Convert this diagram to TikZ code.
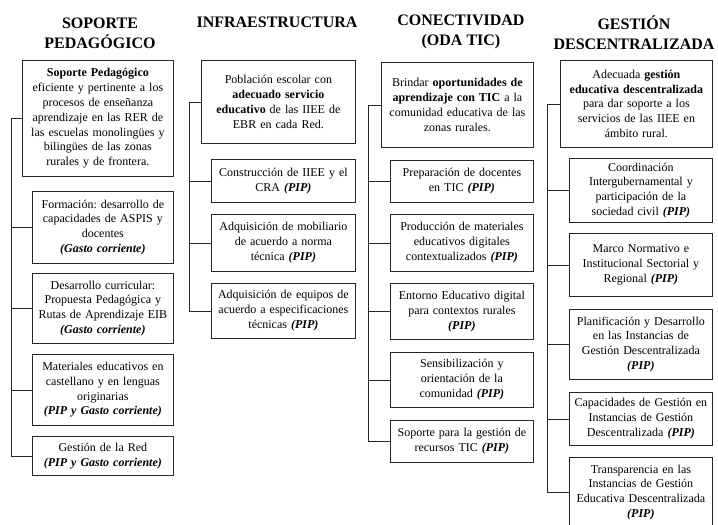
\documentclass[tikz,border=0pt]{standalone}
\usepackage{fontspec}
\setmainfont{Liberation Serif}
\frenchspacing

\begin{document}
\begin{tikzpicture}[
            x=1pt, y=-1pt,
            every node/.style={align=center, inner xsep=4pt, inner ysep=2pt, font=\fontsize{12}{14.8}\selectfont},
            coltitle/.style={font=\fontsize{16}{20}\selectfont\bfseries, inner sep=0pt},
            goalbox/.style={draw=black!85, line width=0.8pt, anchor=north west},
            itembox/.style={draw=black!85, line width=0.8pt, anchor=north west},
            trunkline/.style={draw=black!85, line width=0.8pt}
            ]
            \useasboundingbox (0,0) rectangle (718,525);
            % Titles
            \node[coltitle] (t1) at (100,33) {SOPORTE\\PEDAGÓGICO};
            \node[coltitle] (t2) at (277,22) {INFRAESTRUCTURA};
            \node[coltitle] (t3) at (461,32) {CONECTIVIDAD\\(ODA TIC)};
            \node[coltitle] (t4) at (634,33) {GESTIÓN\\DESCENTRALIZADA};

            % Soporte pedagogico
            \coordinate (sx) at (11,0);
            \node[goalbox, text width=143pt, minimum height=116pt] (s0) at (22,60)
              {\textbf{Soporte Pedagógico}\\ eficiente y pertinente a los\\ procesos de enseñanza\\ aprendizaje en las RER de\\ las escuelas monolingües y\\ bilingües de las zonas\\ rurales y de frontera.};
            \node[itembox, text width=133pt, minimum height=72pt] (s1) at (32,191)
              {Formación: desarrollo de\\ capacidades de ASPIS y\\ docentes\\ \textbf{\textit{(Gasto corriente)}}};
            \node[itembox, text width=133pt, minimum height=70pt] (s2) at (32,273)
              {Desarrollo curricular:\\ Propuesta Pedagógica y\\ Rutas de Aprendizaje EIB\\ \textbf{\textit{(Gasto corriente)}}};
            \node[itembox, text width=133pt, minimum height=71pt] (s3) at (32,354)
              {Materiales educativos en\\ castellano y en lenguas\\ originarias\\ \textbf{\textit{(PIP y Gasto corriente)}}};
            \node[itembox, text width=133pt, minimum height=39pt] (s4) at (32,436)
              {Gestión de la Red\\ \textbf{\textit{(PIP y Gasto corriente)}}};
            \draw[trunkline] (s0.west) -| (s4.west -| sx) -- (s4.west);
            \draw[trunkline] (s1.west -| sx) -- (s1.west)
                             (s2.west -| sx) -- (s2.west)
                             (s3.west -| sx) -- (s3.west);

            % Infraestructura
            \coordinate (ix) at (189,0);
            \node[goalbox, text width=146pt, minimum height=83pt] (i0) at (201,60)
              {Población escolar con\\ \textbf{adecuado servicio}\\ \textbf{educativo} de las IIEE de\\ EBR en cada Red.};
            \node[itembox, text width=136pt, minimum height=43pt] (i1) at (211,159)
              {Construcción de IIEE y el\\ CRA \textbf{\textit{(PIP)}}};
            \node[itembox, text width=136pt, minimum height=57pt] (i2) at (211,214)
              {Adquisición de mobiliario\\ de acuerdo a norma\\ técnica \textbf{\textit{(PIP)}}};
            \node[itembox, text width=136pt, minimum height=55pt] (i3) at (211,283)
              {Adquisición de equipos de\\ acuerdo a especificaciones\\ técnicas \textbf{\textit{(PIP)}}};
            \draw[trunkline] (i0.west) -| (i3.west -| ix) -- (i3.west);
            \draw[trunkline] (i1.west -| ix) -- (i1.west)
                             (i2.west -| ix) -- (i2.west);

            % Conectividad
            \coordinate (cx) at (368,0);
            \node[goalbox, text width=144pt, minimum height=85pt] (c0) at (381,62)
              {Brindar \textbf{oportunidades de}\\ \textbf{aprendizaje con TIC} a la\\ comunidad educativa de las\\ zonas rurales.};
            \node[itembox, text width=135pt, minimum height=42pt] (c1) at (390,160)
              {Preparación de docentes\\ en TIC \textbf{\textit{(PIP)}}};
            \node[itembox, text width=135pt, minimum height=57pt] (c2) at (390,214)
              {Producción de materiales\\ educativos digitales\\ contextualizados \textbf{\textit{(PIP)}}};
            \node[itembox, text width=135pt, minimum height=56pt] (c3) at (390,283)
              {Entorno Educativo digital\\ para contextos rurales\\ \textbf{\textit{(PIP)}}};
            \node[itembox, text width=135pt, minimum height=55pt] (c4) at (390,352)
              {Sensibilización y\\ orientación de la\\ comunidad \textbf{\textit{(PIP)}}};
            \node[itembox, text width=135pt, minimum height=42pt] (c5) at (390,420)
              {Soporte para la gestión de\\ recursos TIC \textbf{\textit{(PIP)}}};
            \draw[trunkline] (c0.west) -| (c5.west -| cx) -- (c5.west);
            \draw[trunkline] (c1.west -| cx) -- (c1.west)
                             (c2.west -| cx) -- (c2.west)
                             (c3.west -| cx) -- (c3.west)
                             (c4.west -| cx) -- (c4.west);

            % Gestion descentralizada
            \coordinate (gx) at (547,0);
            \node[goalbox, text width=144pt, minimum height=87pt] (g0) at (560,60)
              {Adecuada \textbf{gestión}\\ \textbf{educativa descentralizada}\\ para dar soporte a los\\ servicios de las IIEE en\\ ámbito rural.};
            \node[itembox, text width=135pt, minimum height=64pt] (g1) at (569,158)
              {Coordinación\\ Intergubernamental y\\ participación de la\\ sociedad civil \textbf{\textit{(PIP)}}};
            \node[itembox, text width=135pt, minimum height=63pt] (g2) at (569,233)
              {Marco Normativo e\\ Institucional Sectorial y\\ Regional \textbf{\textit{(PIP)}}};
            \node[itembox, text width=135pt, minimum height=70pt] (g3) at (569,309)
              {Planificación y Desarrollo\\ en las Instancias de\\ Gestión Descentralizada\\ \textbf{\textit{(PIP)}}};
            \node[itembox, text width=135pt, minimum height=53pt] (g4) at (569,392)
              {Capacidades de Gestión en\\ Instancias de Gestión\\ Descentralizada \textbf{\textit{(PIP)}}};
            \node[itembox, text width=135pt, minimum height=70pt] (g5) at (569,457)
              {Transparencia en las\\ Instancias de Gestión\\ Educativa Descentralizada\\ \textbf{\textit{(PIP)}}};
            \draw[trunkline] (g0.west) -| (g5.west -| gx) -- (g5.west);
            \draw[trunkline] (g1.west -| gx) -- (g1.west)
                             (g2.west -| gx) -- (g2.west)
                             (g3.west -| gx) -- (g3.west)
                             (g4.west -| gx) -- (g4.west);
          \end{tikzpicture}
\end{document}
